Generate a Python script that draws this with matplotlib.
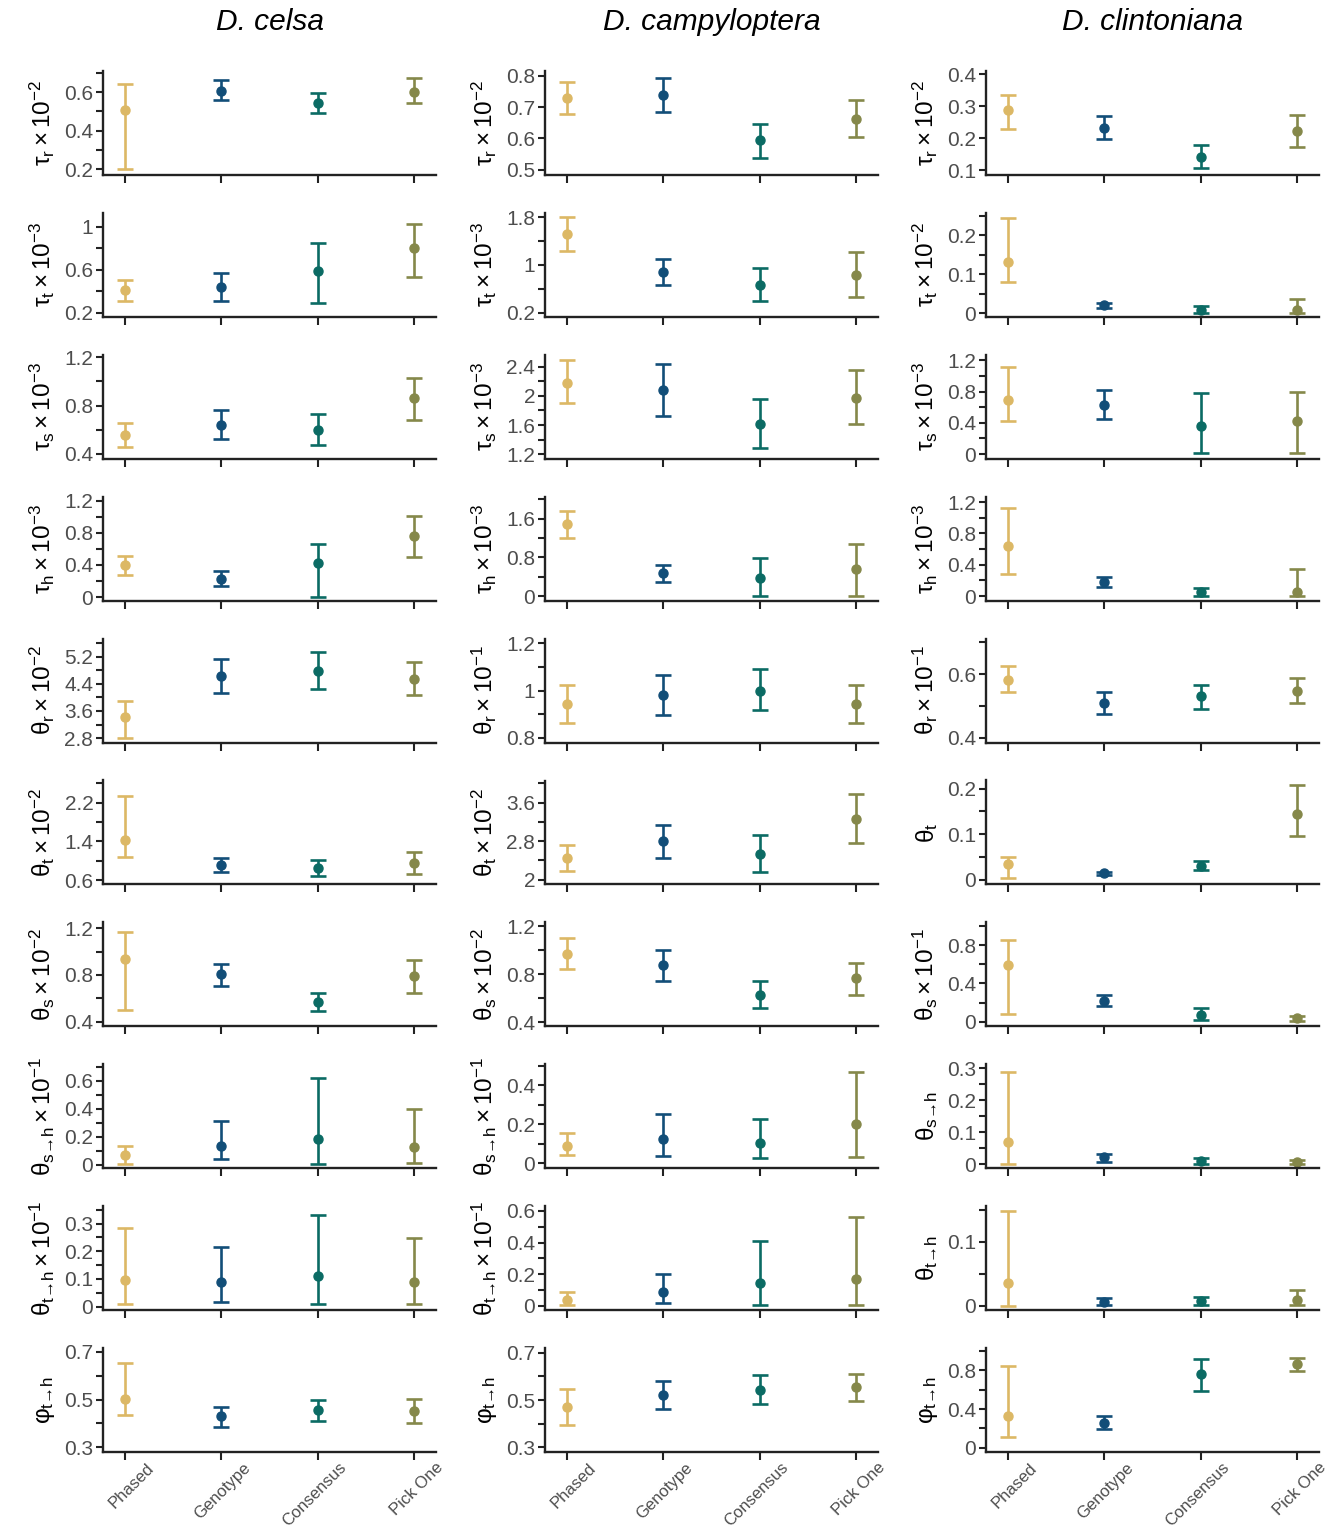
import matplotlib
matplotlib.use("Agg")
import matplotlib.pyplot as plt
import matplotlib.transforms as mtransforms
import numpy as np

plt.rcParams["font.family"] = ["Liberation Sans", "DejaVu Sans"]

species = ["D. celsa", "D. campyloptera", "D. clintoniana"]
methods = ["Phased", "Genotype", "Consensus", "Pick One"]
colors = ["#DCB865", "#124E78", "#0B6B64", "#85884A"]

# y labels: (symbol, subscript, exponent or None)
celsa_labels = [("τ", "r", -2), ("τ", "t", -3), ("τ", "s", -3), ("τ", "h", -3),
                ("θ", "r", -2), ("θ", "t", -2), ("θ", "s", -2),
                ("θ", "s→h", -1), ("θ", "t→h", -1), ("φ", "t→h", None)]
campy_labels = [("τ", "r", -2), ("τ", "t", -3), ("τ", "s", -3), ("τ", "h", -3),
                ("θ", "r", -1), ("θ", "t", -2), ("θ", "s", -2),
                ("θ", "s→h", -1), ("θ", "t→h", -1), ("φ", "t→h", None)]
clint_labels = [("τ", "r", -2), ("τ", "t", -2), ("τ", "s", -3), ("τ", "h", -3),
                ("θ", "r", -1), ("θ", "t", None), ("θ", "s", -1),
                ("θ", "s→h", None), ("θ", "t→h", None), ("φ", "t→h", None)]

# point estimates, rows = parameters, cols = methods
celsa_mean = [[0.508, 0.607, 0.546, 0.603],
              [0.414, 0.436, 0.585, 0.80],
              [0.555, 0.64, 0.60, 0.86],
              [0.40, 0.23, 0.43, 0.76],
              [3.43, 4.62, 4.78, 4.54],
              [1.44, 0.91, 0.85, 0.96],
              [0.94, 0.81, 0.57, 0.79],
              [0.07, 0.135, 0.183, 0.13],
              [0.097, 0.088, 0.112, 0.088],
              [0.504, 0.43, 0.455, 0.452]]
celsa_lo = [[0.20, 0.557, 0.494, 0.543],
            [0.308, 0.308, 0.29, 0.535],
            [0.457, 0.52, 0.47, 0.68],
            [0.27, 0.14, 0.0, 0.495],
            [2.80, 4.13, 4.26, 4.06],
            [1.07, 0.77, 0.69, 0.73],
            [0.50, 0.71, 0.49, 0.65],
            [0.01, 0.041, 0.01, 0.012],
            [0.009, 0.018, 0.009, 0.009],
            [0.435, 0.387, 0.41, 0.403]]
celsa_hi = [[0.642, 0.661, 0.598, 0.673],
            [0.508, 0.57, 0.845, 1.025],
            [0.66, 0.76, 0.73, 1.03],
            [0.51, 0.325, 0.66, 1.01],
            [3.89, 5.12, 5.33, 5.03],
            [2.34, 1.06, 1.02, 1.18],
            [1.17, 0.89, 0.65, 0.93],
            [0.137, 0.31, 0.62, 0.40],
            [0.284, 0.214, 0.332, 0.247],
            [0.655, 0.468, 0.497, 0.503]]

campy_mean = [[0.73, 0.74, 0.594, 0.662],
              [1.51, 0.88, 0.66, 0.835],
              [2.18, 2.08, 1.62, 1.97],
              [1.48, 0.48, 0.37, 0.56],
              [0.943, 0.98, 1.0, 0.943],
              [2.46, 2.81, 2.53, 3.27],
              [0.966, 0.874, 0.63, 0.764],
              [0.088, 0.122, 0.105, 0.201],
              [0.036, 0.086, 0.145, 0.168],
              [0.471, 0.522, 0.544, 0.555]]
campy_lo = [[0.678, 0.686, 0.538, 0.604],
            [1.24, 0.67, 0.40, 0.46],
            [1.90, 1.73, 1.29, 1.61],
            [1.19, 0.29, 0.0, 0.0],
            [0.864, 0.897, 0.917, 0.864],
            [2.18, 2.46, 2.15, 2.77],
            [0.84, 0.744, 0.52, 0.63],
            [0.04, 0.037, 0.028, 0.033],
            [0.007, 0.016, 0.009, 0.009],
            [0.393, 0.462, 0.484, 0.496]]
campy_hi = [[0.78, 0.795, 0.647, 0.722],
            [1.80, 1.10, 0.945, 1.21],
            [2.49, 2.43, 1.96, 2.35],
            [1.76, 0.65, 0.79, 1.08],
            [1.025, 1.066, 1.09, 1.025],
            [2.73, 3.14, 2.92, 3.77],
            [1.10, 1.0, 0.74, 0.895],
            [0.157, 0.254, 0.225, 0.47],
            [0.09, 0.2, 0.41, 0.56],
            [0.549, 0.58, 0.605, 0.611]]

clint_mean = [[0.287, 0.232, 0.141, 0.224],
              [0.131, 0.02, 0.009, 0.007],
              [0.69, 0.63, 0.36, 0.42],
              [0.64, 0.18, 0.046, 0.055],
              [0.582, 0.509, 0.530, 0.546],
              [0.035, 0.014, 0.03, 0.144],
              [0.597, 0.221, 0.072, 0.034],
              [0.069, 0.021, 0.009, 0.006],
              [0.036, 0.006, 0.008, 0.009],
              [0.331, 0.255, 0.759, 0.869]]
clint_lo = [[0.228, 0.196, 0.106, 0.172],
            [0.08, 0.012, 0.0, 0.0],
            [0.425, 0.454, 0.02, 0.017],
            [0.28, 0.12, 0.004, 0.004],
            [0.543, 0.474, 0.492, 0.511],
            [0.003, 0.010, 0.022, 0.095],
            [0.076, 0.166, 0.014, 0.01],
            [0.002, 0.006, 0.0, 0.0],
            [0.0, 0.001, 0.001, 0.001],
            [0.11, 0.19, 0.59, 0.797]]
clint_hi = [[0.335, 0.268, 0.178, 0.273],
            [0.244, 0.027, 0.018, 0.035],
            [1.11, 0.825, 0.78, 0.79],
            [1.13, 0.245, 0.10, 0.34],
            [0.626, 0.543, 0.566, 0.587],
            [0.05, 0.017, 0.041, 0.207],
            [0.859, 0.276, 0.141, 0.062],
            [0.287, 0.033, 0.018, 0.014],
            [0.149, 0.012, 0.014, 0.025],
            [0.841, 0.324, 0.917, 0.931]]

# axis ranges and major breaks per panel
celsa_ylim = [(0.17, 0.71), (0.16, 1.13), (0.36, 1.22), (-0.045, 1.25), (2.67, 5.73),
              (0.51, 2.66), (0.36, 1.25), (-0.024, 0.716), (-0.013, 0.363), (0.28, 0.716)]
campy_ylim = [(0.483, 0.816), (0.13, 1.87), (1.14, 2.56), (-0.095, 2.05), (0.78, 1.22),
              (1.90, 4.06), (0.365, 1.23), (-0.026, 0.507), (-0.027, 0.63), (0.28, 0.72)]
clint_ylim = [(0.085, 0.41), (-0.01, 0.258), (-0.06, 1.27), (-0.06, 1.27), (0.385, 0.712),
              (-0.011, 0.218), (-0.05, 1.04), (-0.013, 0.312), (-0.007, 0.156), (-0.045, 1.03)]

celsa_breaks = [[0.2, 0.4, 0.6], [0.2, 0.6, 1.0], [0.4, 0.8, 1.2], [0, 0.4, 0.8, 1.2],
                [2.8, 3.6, 4.4, 5.2], [0.6, 1.4, 2.2], [0.4, 0.8, 1.2], [0, 0.2, 0.4, 0.6],
                [0, 0.1, 0.2, 0.3], [0.3, 0.5, 0.7]]
campy_breaks = [[0.5, 0.6, 0.7, 0.8], [0.2, 1.0, 1.8], [1.2, 1.6, 2.0, 2.4], [0, 0.8, 1.6],
                [0.8, 1.0, 1.2], [2.0, 2.8, 3.6], [0.4, 0.8, 1.2], [0, 0.2, 0.4],
                [0, 0.2, 0.4, 0.6], [0.3, 0.5, 0.7]]
clint_breaks = [[0.1, 0.2, 0.3, 0.4], [0, 0.1, 0.2], [0, 0.4, 0.8, 1.2], [0, 0.4, 0.8, 1.2],
                [0.4, 0.6], [0, 0.1, 0.2], [0, 0.4, 0.8], [0, 0.1, 0.2, 0.3],
                [0, 0.1], [0, 0.4, 0.8]]

cols = [
    (celsa_labels, celsa_mean, celsa_lo, celsa_hi, celsa_ylim, celsa_breaks),
    (campy_labels, campy_mean, campy_lo, campy_hi, campy_ylim, campy_breaks),
    (clint_labels, clint_mean, clint_lo, clint_hi, clint_ylim, clint_breaks),
]
no_minor = {(0, 1), (0, 2)}  # (row, col) panels drawn without minor ticks


def make_label(sym, sub, exp):
    s = sym + "_{" + sub + "}"
    if exp is not None:
        s += r"\,×\,10^{−" + str(-exp) + "}"
    return r"$\mathregular{" + s + "}$"


W, H = 1337, 1531
fig = plt.figure(figsize=(W / 100, H / 100), dpi=100)

lefts = [103, 545, 986]
width = 333
row_h = 104
x = np.arange(1, 5)
axes = np.empty((10, 3), dtype=object)
# x labels sit a bit right of and below their tick, as in the original
shift = mtransforms.ScaledTranslation(21 / 100, -8 / 100, fig.dpi_scale_trans)

for c, (labels, mean, lo, hi, ylims, breaks) in enumerate(cols):
    for r in range(10):
        top = 71 + 141.9 * r
        ax = fig.add_axes([lefts[c] / W, 1 - (top + row_h) / H, width / W, row_h / H])
        axes[r, c] = ax
        m = np.array(mean[r])
        l = np.array(lo[r])
        h = np.array(hi[r])
        for i in range(4):
            ax.errorbar(x[i], m[i], yerr=[[m[i] - l[i]], [h[i] - m[i]]], fmt="o",
                        color=colors[i], ms=6.5, elinewidth=1.9, capsize=5.5, capthick=1.9)
        ax.set_xlim(0.77, 4.23)
        ax.set_ylim(*ylims[r])
        b = breaks[r]
        ax.set_yticks(b)
        ax.set_yticklabels(["{:g}".format(v) for v in b])
        if (r, c) not in no_minor and len(b) > 1:
            step = b[1] - b[0]
            mn = np.arange(b[0] - step / 2, ylims[r][1], step)
            mn = [v for v in mn if ylims[r][0] <= v <= ylims[r][1]]
            ax.set_yticks(mn, minor=True)
        ax.set_xticks(x)
        ax.set_xticklabels([])
        if r == 9:
            trans = ax.get_xaxis_transform() + shift
            for i, name in enumerate(methods):
                ax.text(x[i], 0, name, transform=trans, rotation=45, ha="right", va="top",
                        rotation_mode="anchor", fontsize=12, color="#4D4D4D")
        for sp in ["top", "right"]:
            ax.spines[sp].set_visible(False)
        for sp in ["left", "bottom"]:
            ax.spines[sp].set_linewidth(1.7)
            ax.spines[sp].set_color("#222222")
        ax.tick_params(axis="y", which="major", length=5, width=1.5, color="#222222",
                       labelsize=15, labelcolor="#4D4D4D", pad=2)
        ax.tick_params(axis="y", which="minor", length=5, width=1.5, color="#222222")
        ax.tick_params(axis="x", which="major", length=6, width=1.5, color="#222222")
        sym, sub, exp = labels[r]
        ax.set_ylabel(make_label(sym, sub, exp), fontsize=17.5, labelpad=5)
    fig.align_ylabels(axes[:, c])
    fig.text((lefts[c] + width / 2) / W, 1 - 22 / H, species[c], ha="center", va="center",
             fontsize=21.5, style="italic")

fig.savefig("out.png", dpi=100)
